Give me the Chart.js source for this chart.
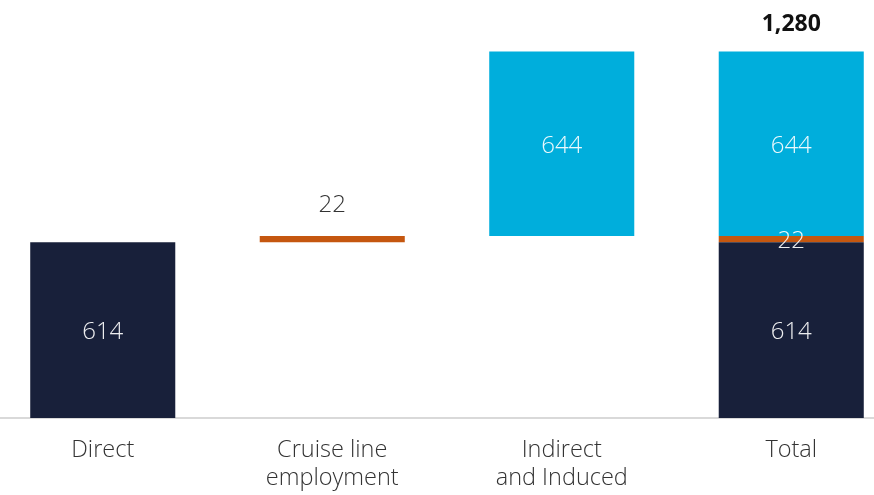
<!DOCTYPE html>
<html>
<head>
<meta charset="utf-8">
<script src="https://cdn.jsdelivr.net/npm/chart.js@4.4.0/dist/chart.umd.min.js"></script>
<style>
  html, body { margin: 0; padding: 0; background: #ffffff; overflow: hidden; }
  #wrap { position: relative; width: 874px; height: 495px; overflow: hidden; }
  #c { position: absolute; left: -12px; top: 0; }
</style>
</head>
<body>
<div id="wrap"><canvas id="c" width="918" height="495"></canvas></div>
<script>
// ---- data ----
const categories = ['Direct', 'Cruise line employment', 'Indirect and Induced', 'Total'];
const tickLabels = [['Direct'], ['Cruise line', 'employment'], ['Indirect', 'and Induced'], ['Total']];
const seriesNames = ['Direct', 'Cruise line employment', 'Indirect and Induced'];
const seriesValues = [614, 22, 644];
const totalValue = 1280;
const totalLabel = '1,280';
const seriesColors = ['#18203a', '#c5570f', '#00aedc'];

// ---- build floating waterfall datasets ----
const datasets = [];
let cum = 0;
seriesValues.forEach((v, i) => {
  const data = categories.map(() => null);
  data[i] = [cum, cum + v];
  data[categories.length - 1] = [cum, cum + v];
  cum += v;
  datasets.push({
    label: seriesNames[i],
    data: data,
    backgroundColor: seriesColors[i],
    borderWidth: 0,
    grouped: false,
    categoryPercentage: 1,
    barPercentage: 0.632
  });
});

const FONT = '"Open Sans", "Noto Sans", sans-serif';

const labelPlugin = {
  id: 'labels',
  afterDatasetsDraw(chart) {
    const ctx = chart.ctx;
    ctx.save();
    ctx.textAlign = 'center';
    ctx.textBaseline = 'middle';
    chart.data.datasets.forEach((ds, di) => {
      const meta = chart.getDatasetMeta(di);
      meta.data.forEach((el, idx) => {
        if (ds.data[idx] == null) return;
        const p = el.getProps(['x', 'y', 'base'], true);
        const val = String(seriesValues[di]);
        const small = Math.abs(p.base - p.y) < 30;
        if (small && idx !== categories.length - 1) {
          ctx.fillStyle = '#333333';
          ctx.font = '300 24px ' + FONT;
          ctx.fillText(val, p.x, Math.min(p.y, p.base) - 31);
        } else {
          ctx.fillStyle = 'rgba(255,255,255,0.92)';
          ctx.font = '300 24px ' + FONT;
          ctx.fillText(val, p.x, (p.y + p.base) / 2 + 2);
        }
      });
    });
    // total label
    const last = chart.getDatasetMeta(chart.data.datasets.length - 1).data[categories.length - 1];
    const yTop = chart.scales.y.getPixelForValue(totalValue);
    ctx.fillStyle = '#111111';
    ctx.font = 'bold 23px ' + FONT;
    ctx.fillText(totalLabel, last.x, yTop - 27);
    ctx.restore();
  }
};

new Chart(document.getElementById('c'), {
  type: 'bar',
  data: { labels: tickLabels, datasets: datasets },
  options: {
    responsive: false,
    animation: false,
    devicePixelRatio: 1,
    layout: { padding: { left: 0, right: 0, top: 0, bottom: 0 } },
    plugins: { legend: { display: false }, tooltip: { enabled: false } },
    scales: {
      x: {
        grid: { display: false, drawTicks: false },
        border: { display: true, color: '#d9d9d9', width: 2 },
        afterFit(scale) { scale.height = 77; },
        ticks: {
          color: '#333333',
          font: { family: FONT, size: 23.5, weight: '300', lineHeight: 1.2 },
          padding: 18,
          maxRotation: 0,
          autoSkip: false
        }
      },
      y: {
        display: false,
        min: 0,
        max: 1460,
        grid: { display: false }
      }
    }
  },
  plugins: [labelPlugin]
});
</script>
</body>
</html>
